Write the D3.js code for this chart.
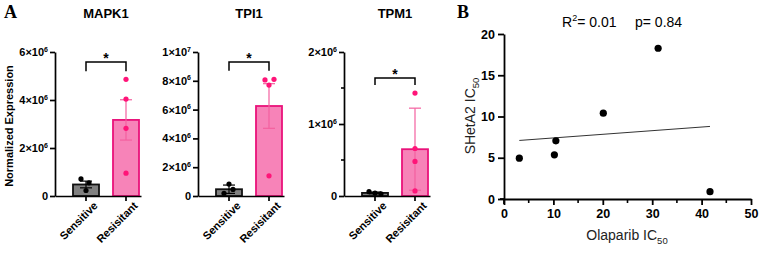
<!DOCTYPE html>
<html>
<head>
<meta charset="utf-8">
<script src="https://cdn.jsdelivr.net/npm/d3@7"></script>
<style>
  body { margin: 0; background: #fff; }
  svg { display: block; font-family: "Liberation Sans", Arial, sans-serif; }
</style>
</head>
<body>
<svg></svg>
<script>
  var width = 760, height = 253;
  var svg = d3.select('svg').attr('width', width).attr('height', height);

  // ---- data ----
  var groups = ["Sensitive", "Resisitant"];

  var mapk1Sens = [0.71e6, 0.55e6, 0.23e6];
  var mapk1Res = [4.86e6, 4.04e6, 2.82e6, 0.95e6];
  var mapk1Mean = [0.48e6, 3.17e6];
  var mapk1Err = [0.14e6, 0.84e6];
  var mapk1Ticks = [0, 2e6, 4e6, 6e6];
  var mapk1Bracket = [5.58e6, 5.2e6];

  var tpi1Sens = [0.83e6, 0.46e6, 0.19e6];
  var tpi1Res = [8.06e6, 7.7e6, 8.1e6, 1.4e6];
  var tpi1Mean = [0.47e6, 6.25e6];
  var tpi1Err = [0.29e6, 1.55e6];
  var tpi1Ticks = [0, 2e6, 4e6, 6e6, 8e6, 1e7];
  var tpi1Bracket = [9.3e6, 8.7e6];

  var tpm1Sens = [0.06e6, 0.04e6, 0.03e6];
  var tpm1Res = [1.43e6, 0.66e6, 0.48e6, 0.07e6];
  var tpm1Mean = [0.043e6, 0.65e6];
  var tpm1Err = [0.012e6, 0.57e6];
  var tpm1Ticks = [0, 1e6, 2e6];
  var tpm1Minor = [0.5e6, 1.5e6];
  var tpm1Bracket = [1.64e6, 1.54e6];

  var olaparib = [3.1, 10.2, 10.5, 20.1, 31.2, 41.7];
  var shetA2 = [4.95, 5.35, 7.05, 10.4, 18.27, 0.89];
  var scatterXTicks = [0, 10, 20, 30, 40, 50];
  var scatterYTicks = [0, 5, 10, 15, 20];

  // ---- styles ----
  var sensFill = "#808080", sensStroke = "#111";
  var resFill = "#f783b8", resStroke = "#e9127a", resDot = "#ff1478", resErr = "#f4609f";

  // panel letters
  svg.append("text").attr("x", 4).attr("y", 18)
    .style("font-family", '"Liberation Serif", "Times New Roman", serif')
    .style("font-weight", "bold").style("font-size", "18px").text("A");
  svg.append("text").attr("x", 457).attr("y", 18)
    .style("font-family", '"Liberation Serif", "Times New Roman", serif')
    .style("font-weight", "bold").style("font-size", "18px").text("B");

  // y label for the bar panels
  svg.append("text")
    .attr("transform", "translate(13,126) rotate(-90)")
    .style("text-anchor", "middle")
    .style("font-weight", "bold").style("font-size", "11px")
    .text("Normalized Expression");

  function sciLabel(node, v) {
    var t = d3.select(node);
    t.text(null);
    if (v === 0) { t.text("0"); return; }
    var e = Math.floor(Math.log10(v) + 1e-9);
    var m = Math.round(v / Math.pow(10, e));
    t.append("tspan").text(m + "\u00d710");
    t.append("tspan").attr("dy", -4.5).style("font-size", "7px").text(e);
  }

  function barPanel(cfg) {
    var g = svg.append("g");
    var y = d3.scaleLinear().domain([0, cfg.ticks[cfg.ticks.length - 1]]).range([196, 52]);
    var x = d3.scaleBand().domain(groups)
      .range([cfg.axisX, cfg.axisX + 86])
      .paddingInner(0.35).paddingOuter(0.25).align(0.9);
    var bw = x.bandwidth();

    // title
    g.append("text").attr("x", x(groups[0]) + bw / 2 + 20).attr("y", 18)
      .style("text-anchor", "middle").style("font-weight", "bold").style("font-size", "13px")
      .text(cfg.title);

    // bars
    g.selectAll("rect.bar").data(groups).enter().append("rect")
      .attr("x", d => x(d))
      .attr("y", (d, i) => y(cfg.mean[i]))
      .attr("width", bw)
      .attr("height", (d, i) => y(0) - y(cfg.mean[i]))
      .attr("fill", (d, i) => i ? resFill : sensFill)
      .attr("stroke", (d, i) => i ? resStroke : sensStroke)
      .attr("stroke-width", 1.8);

    // error bars (mean +/- err, capped both ends)
    groups.forEach(function(grp, i) {
      var cx = x(grp) + bw / 2;
      var col = i ? resErr : "#000";
      var lo = y(cfg.mean[i] - cfg.err[i]), hi = y(cfg.mean[i] + cfg.err[i]);
      g.append("line").attr("x1", cx).attr("x2", cx).attr("y1", lo).attr("y2", hi)
        .attr("stroke", col).attr("stroke-width", 1.2);
      [lo, hi].forEach(function(yy) {
        g.append("line").attr("x1", cx - 6).attr("x2", cx + 6).attr("y1", yy).attr("y2", yy)
          .attr("stroke", col).attr("stroke-width", 1.2);
      });
    });

    // points
    [cfg.sens, cfg.res].forEach(function(vals, i) {
      var cx = x(groups[i]) + bw / 2;
      g.selectAll(null).data(vals).enter().append("circle")
        .attr("cx", (d, j) => cx + cfg.jitter[i][j])
        .attr("cy", d => y(d))
        .attr("r", 2.6)
        .attr("fill", i ? resDot : "#000");
    });

    // y axis
    var yAxis = g.append("g")
      .attr("transform", `translate(${cfg.axisX},0)`)
      .call(d3.axisLeft(y).tickValues(cfg.ticks).tickSize(5).tickSizeOuter(0).tickPadding(2));
    yAxis.selectAll(".tick text").each(function(d) { sciLabel(this, d); });
    if (cfg.minor) {
      g.selectAll(null).data(cfg.minor).enter().append("line")
        .attr("x1", cfg.axisX - 3).attr("x2", cfg.axisX)
        .attr("y1", d => y(d)).attr("y2", d => y(d))
        .attr("stroke", "#000").attr("stroke-width", 1.6);
    }

    // x axis
    var xAxis = g.append("g")
      .attr("transform", `translate(0,${y(0)})`)
      .call(d3.axisBottom(x).tickSize(5).tickSizeOuter(0));
    xAxis.selectAll(".tick text")
      .attr("transform", "translate(4,2) rotate(-45)")
      .attr("dy", "0.35em").attr("y", 8).attr("x", 0)
      .style("text-anchor", "end");

    [yAxis, xAxis].forEach(function(a) {
      a.selectAll("path, line").attr("stroke", "#000").attr("stroke-width", 1.7);
      a.selectAll("text").attr("fill", "#000")
        .style("font-family", '"Liberation Sans", Arial, sans-serif')
        .style("font-weight", "bold").style("font-size", "11px");
    });

    // significance bracket
    var c1 = x(groups[0]) + bw / 2, c2 = x(groups[1]) + bw / 2;
    g.append("path")
      .attr("d", `M${c1},${y(cfg.bracket[1])}V${y(cfg.bracket[0])}H${c2}V${y(cfg.bracket[1])}`)
      .attr("fill", "none").attr("stroke", "#000").attr("stroke-width", 1.5);
    g.append("text").attr("x", (c1 + c2) / 2).attr("y", y(cfg.bracket[0]) + 1)
      .style("text-anchor", "middle").style("font-weight", "bold").style("font-size", "14px")
      .text("*");
  }

  barPanel({ title: "MAPK1", axisX: 55, ticks: mapk1Ticks, sens: mapk1Sens, res: mapk1Res,
    mean: mapk1Mean, err: mapk1Err, bracket: mapk1Bracket,
    jitter: [[-5, 3, 0], [0, 0, 0, 0]] });
  barPanel({ title: "TPI1", axisX: 198, ticks: tpi1Ticks, sens: tpi1Sens, res: tpi1Res,
    mean: tpi1Mean, err: tpi1Err, bracket: tpi1Bracket,
    jitter: [[0, 4, -5], [-4, 0, 5, 0]] });
  barPanel({ title: "TPM1", axisX: 344, ticks: tpm1Ticks, minor: tpm1Minor, sens: tpm1Sens, res: tpm1Res,
    mean: tpm1Mean, err: tpm1Err, bracket: tpm1Bracket,
    jitter: [[-6, 0, 6], [0, 0, 0, 0]] });

  // ---- panel B scatter ----
  var sx = d3.scaleLinear().domain([0, 50]).range([504, 751]);
  var sy = d3.scaleLinear().domain([0, 20]).range([199, 34]);
  var sg = svg.append("g");

  var xa = sg.append("g").attr("transform", "translate(0,199)")
    .call(d3.axisBottom(sx).tickValues(scatterXTicks).tickSize(6).tickSizeOuter(0).tickPadding(4));
  var ya = sg.append("g").attr("transform", "translate(504,0)")
    .call(d3.axisLeft(sy).tickValues(scatterYTicks).tickSize(6).tickSizeOuter(0).tickPadding(3));
  // minor x ticks
  sg.selectAll(null).data(scatterXTicks.slice(1)).enter().append("line")
    .attr("x1", d => sx(d - 5)).attr("x2", d => sx(d - 5))
    .attr("y1", 199).attr("y2", 203)
    .attr("stroke", "#000").attr("stroke-width", 1.6);
  // axis overhang (GraphPad style)
  sg.append("line").attr("x1", 504).attr("x2", 504).attr("y1", 199).attr("y2", 204)
    .attr("stroke", "#000").attr("stroke-width", 1.8);
  sg.append("line").attr("x1", 500).attr("x2", 504).attr("y1", 199).attr("y2", 199)
    .attr("stroke", "#000").attr("stroke-width", 1.8);
  [xa, ya].forEach(function(a) {
    a.selectAll("path, line").attr("stroke", "#000").attr("stroke-width", 1.8);
    a.selectAll("text").attr("fill", "#000")
      .style("font-family", '"Liberation Sans", Arial, sans-serif')
      .style("font-weight", "bold").style("font-size", "12.5px");
  });

  // least-squares fit
  var mx = d3.mean(olaparib), my = d3.mean(shetA2);
  var sxy = d3.sum(olaparib, (v, i) => (v - mx) * (shetA2[i] - my));
  var sxx = d3.sum(olaparib, v => (v - mx) * (v - mx));
  var slope = sxy / sxx, icpt = my - slope * mx;
  var x0 = d3.min(olaparib), x1 = d3.max(olaparib);
  sg.append("line")
    .attr("x1", sx(x0)).attr("y1", sy(icpt + slope * x0))
    .attr("x2", sx(x1)).attr("y2", sy(icpt + slope * x1))
    .attr("stroke", "#333").attr("stroke-width", 1);

  sg.selectAll("circle").data(olaparib).enter().append("circle")
    .attr("cx", d => sx(d))
    .attr("cy", (d, i) => sy(shetA2[i]))
    .attr("r", 3.6).attr("fill", "#000");

  // annotations
  var r2 = sg.append("text").attr("x", 562).attr("y", 27).style("font-size", "14px");
  r2.append("tspan").text("R");
  r2.append("tspan").attr("dy", -6).style("font-size", "9px").text("2");
  r2.append("tspan").attr("dy", 6).text("= 0.01");
  sg.append("text").attr("x", 635).attr("y", 27).style("font-size", "14px").text("p= 0.84");

  var xl = sg.append("text").attr("x", 627).attr("y", 240)
    .style("text-anchor", "middle").style("font-size", "14px").attr("fill", "#222");
  xl.append("tspan").text("Olaparib IC");
  xl.append("tspan").attr("dy", 4).style("font-size", "9.5px").text("50");

  var yl = sg.append("text").attr("transform", "translate(475,116) rotate(-90)")
    .style("text-anchor", "middle").style("font-size", "14px").attr("fill", "#222");
  yl.append("tspan").text("SHetA2 IC");
  yl.append("tspan").attr("dy", 4).style("font-size", "9.5px").text("50");
</script>
</body>
</html>
